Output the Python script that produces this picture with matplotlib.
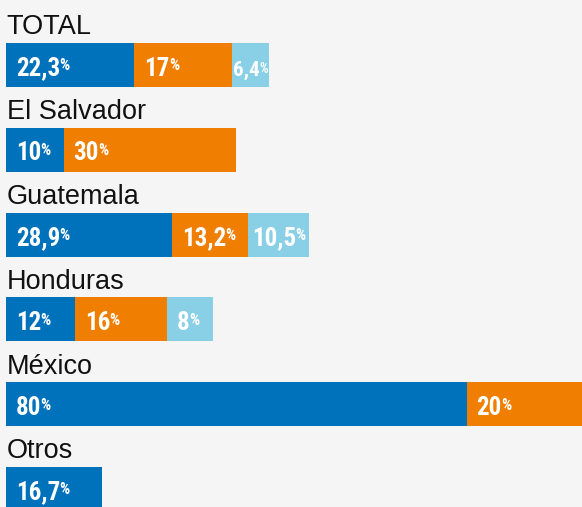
import matplotlib.pyplot as plt
from matplotlib import font_manager

# shares by group (%)
groups = ['TOTAL', 'El Salvador', 'Guatemala', 'Honduras', 'México', 'Otros']
blue_vals = [22.3, 10, 28.9, 12, 80, 16.7]
orange_vals = [17, 30, 13.2, 16, 20, 0]
light_vals = [6.4, 0, 10.5, 8, 0, 0]

colors = ['#0071bb', '#f07e00', '#89cfe6']
bg = '#f5f5f5'


def narrow_bold():
    # look for a condensed / narrow bold face among installed fonts
    cands = []
    for f in font_manager.fontManager.ttflist:
        fn = f.fname.lower()
        if ('condensed' in fn or 'narrow' in fn or f.stretch in ('condensed', 'semi-condensed')) and f.weight in (700, 'bold'):
            cands.append(f)
    if cands:
        cands.sort(key=lambda f: ('roboto' not in f.fname.lower(), f.fname))
        return font_manager.FontProperties(fname=cands[0].fname)
    return font_manager.FontProperties(family='DejaVu Sans', weight='bold')


num_prop = narrow_bold()

W, H = 582, 507
fig = plt.figure(figsize=(W / 100, H / 100), dpi=100, facecolor=bg)
ax = fig.add_axes([6 / W, 0, 576 / W, 1])
ax.set_facecolor(bg)
ax.set_xlim(0, 100)
ax.set_ylim(H, 0)  # pixel rows, top-down
ax.axis('off')

title_font = ['Liberation Sans', 'DejaVu Sans']

bar_h = 44
step = 84.8
first_top = 43
pad = 1.7  # label inset from segment start, in % units

renderer = fig.canvas.get_renderer()
px_per_unit = 576 / 100


def label_width(t, p):
    return p.get_window_extent(renderer).x1 - t.get_window_extent(renderer).x0


for i, g in enumerate(groups):
    top = first_top + i * step
    yc = top + bar_h / 2
    ax.text(0.1, top - 8.5, g, fontsize=19.5, family=title_font, color='#111111', va='baseline', ha='left')
    left = 0
    for vals, c in zip([blue_vals, orange_vals, light_vals], colors):
        v = vals[i]
        if v <= 0:
            continue
        ax.barh(yc, v, left=left, height=bar_h, color=c, edgecolor='none')
        lab = f'{v:g}'.replace('.', ',')
        t = ax.text(left + pad, top + 32.5, lab, fontproperties=num_prop, fontsize=18,
                    color='white', va='baseline', ha='left')
        p = ax.annotate('%', xy=(1, 1), xycoords=t, xytext=(-0.6, -1.3), textcoords='offset points',
                        fontproperties=num_prop, fontsize=11.5, color='white', va='top', ha='left')
        # short segment: pull the label left, and shrink it if it still does not fit
        seg = v * px_per_unit
        w_px = label_width(t, p)
        if w_px > seg - pad * px_per_unit - 1:
            t.set_x(left + max(0.15, (seg - w_px - 3) / px_per_unit))
            fs = 18
            while label_width(t, p) > seg - 2 and fs > 12:
                fs -= 0.25
                t.set_fontsize(fs)
                p.set_fontsize(fs * 11.5 / 18)
        left += v

fig.savefig('out.png', dpi=100, facecolor=bg)
